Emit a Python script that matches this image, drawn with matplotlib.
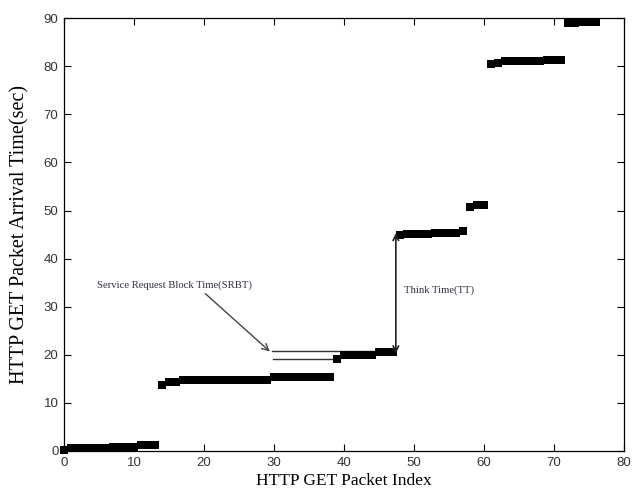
import matplotlib
matplotlib.use('Agg')
import matplotlib.pyplot as plt

# packet index -> arrival time (sec)
packet_index = list(range(0, 77))
arrival_time = (
    [0.3]
    + [0.6, 0.6, 0.7, 0.7, 0.7, 0.7, 0.8, 0.8, 0.8, 0.8]
    + [1.2, 1.2, 1.2]
    + [13.7, 14.3, 14.3]
    + [14.7] * 13
    + [15.3] * 9
    + [19.1]
    + [20.0] * 5
    + [20.5, 20.5, 20.6]
    + [44.9, 45.2, 45.2, 45.2, 45.2, 45.3, 45.3, 45.4, 45.4, 45.7]
    + [50.8, 51.2, 51.2]
    + [80.5, 80.7]
    + [81.1] * 6
    + [81.2] * 3
    + [88.9, 88.9, 89.2, 89.2, 89.2]
)

x_ticks = [0, 10, 20, 30, 40, 50, 60, 70, 80]
y_ticks = [0, 10, 20, 30, 40, 50, 60, 70, 80, 90]

srbt_label = 'Service Request Block Time(SRBT)'
tt_label = 'Think Time(TT)'

fig = plt.figure(figsize=(6.33, 4.91), dpi=100)
ax = fig.add_axes([0.101, 0.0815, 0.885, 0.8815])

ax.plot(packet_index, arrival_time, 's', color='black', markersize=5.6,
        markeredgewidth=0, clip_on=False, zorder=3)

ax.set_xlim(0, 80)
ax.set_ylim(0, 90)
ax.set_xticks(x_ticks)
ax.set_yticks(y_ticks)
ax.tick_params(direction='in', length=5, width=0.8, top=True, right=True,
               labelsize=9.5, labelcolor='#333333', pad=4)
for lbl in ax.get_xticklabels() + ax.get_yticklabels():
    lbl.set_family('Liberation Sans')
for s in ax.spines.values():
    s.set_linewidth(0.9)

ax.set_xlabel('HTTP GET Packet Index', family='Liberation Serif',
              fontsize=12.5, labelpad=3.5)
ax.set_ylabel('HTTP GET Packet Arrival Time(sec)', family='Liberation Serif',
              fontsize=14.5, labelpad=10)

# SRBT annotation
ax.text(4.7, 34.5, srbt_label, family='Liberation Serif', fontsize=7.7,
        color='#2f2f45', va='center')
ax.annotate('', xy=(29.7, 20.3), xytext=(19.9, 33.1),
            arrowprops=dict(arrowstyle='->', color='#444444', lw=1.0,
                            mutation_scale=12))
ax.plot([29.7, 47.3], [20.7, 20.7], color='#333333', lw=1.0)
ax.plot([29.8, 38.4], [19.1, 19.1], color='#333333', lw=1.0)

# Think time annotation
ax.annotate('', xy=(47.4, 20.3), xytext=(47.4, 45.3),
            arrowprops=dict(arrowstyle='<->', color='#222222', lw=1.2,
                            mutation_scale=10, shrinkA=0, shrinkB=0))
ax.text(48.5, 33.5, tt_label, family='Liberation Serif', fontsize=7.7,
        color='#2f2f45', va='center')

fig.savefig('out.png', dpi=100)
